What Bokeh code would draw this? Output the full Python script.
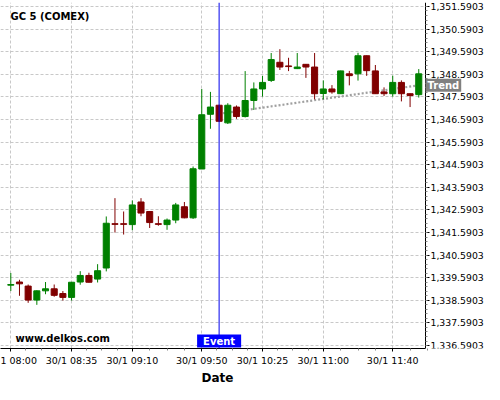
from bokeh.plotting import figure
from bokeh.models import (FixedTicker, NumeralTickFormatter, Span, Label,
                          ColumnDataSource, BoxAnnotation, Title)
from bokeh.embed import file_html
from bokeh.resources import INLINE

# ---------------- data ----------------
symbol = "GC 5 (COMEX)"
date_prefix = "30/1"
start_hour, start_min, step_min, n_bars = 8, 0, 5, 48
times = []
for i in range(n_bars):
    t = start_hour * 60 + start_min + i * step_min
    times.append("%02d:%02d" % (t // 60, t % 60))

opens = [1339.26, 1339.40, 1339.22, 1338.60, 1339.01, 1339.10, 1338.89, 1338.72,
         1339.40, 1339.69, 1339.53, 1340.02, 1341.98, 1341.98, 1341.94, 1342.94,
         1342.52, 1341.98, 1341.94, 1342.14, 1342.73, 1342.24, 1344.40, 1346.82,
         1347.22, 1346.44, 1347.14, 1346.72, 1347.43, 1347.94, 1348.32, 1349.12,
         1348.96, 1348.84, 1349.03, 1348.91, 1347.74, 1347.94, 1347.73, 1348.61,
         1348.61, 1349.41, 1348.74, 1347.81, 1347.73, 1348.23, 1347.73, 1347.69]
highs = [1339.80, 1339.50, 1339.29, 1339.03, 1339.40, 1339.29, 1339.00, 1339.40,
         1339.88, 1339.81, 1340.19, 1342.30, 1343.11, 1342.52, 1343.01, 1343.11,
         1342.53, 1342.31, 1342.21, 1342.90, 1342.94, 1344.51, 1347.94, 1347.81,
         1347.24, 1347.31, 1347.21, 1348.73, 1348.23, 1348.52, 1349.53, 1349.70,
         1349.32, 1349.53, 1349.04, 1349.53, 1348.32, 1348.11, 1348.75, 1348.74,
         1349.54, 1349.42, 1349.00, 1348.01, 1348.53, 1348.32, 1347.74, 1348.82]
lows = [1339.00, 1338.79, 1338.48, 1338.39, 1338.86, 1338.75, 1338.58, 1338.58,
        1339.28, 1339.38, 1339.38, 1339.87, 1341.59, 1341.50, 1341.69, 1342.31,
        1341.79, 1341.89, 1341.71, 1342.00, 1342.22, 1342.19, 1344.40, 1346.18,
        1346.49, 1346.39, 1346.62, 1346.68, 1347.01, 1347.60, 1348.25, 1348.78,
        1348.73, 1348.82, 1348.43, 1347.48, 1347.48, 1347.73, 1347.72, 1348.10,
        1348.31, 1348.52, 1347.72, 1347.63, 1347.60, 1347.39, 1347.14, 1347.56]
closes = [1339.29, 1339.32, 1338.60, 1339.01, 1339.10, 1338.81, 1338.72, 1339.39,
          1339.69, 1339.39, 1339.90, 1342.00, 1341.95, 1341.95, 1342.81, 1342.45,
          1342.03, 1341.95, 1342.14, 1342.81, 1342.24, 1344.41, 1346.80, 1347.14,
          1346.51, 1347.22, 1346.72, 1347.43, 1347.94, 1348.23, 1349.24, 1348.91,
          1348.93, 1348.91, 1348.91, 1347.73, 1347.94, 1347.81, 1348.74, 1348.53,
          1349.41, 1348.75, 1347.73, 1347.73, 1348.23, 1347.73, 1347.65, 1348.61]

tick_times = ["08:00", "08:35", "09:10", "09:50", "10:25", "11:00", "11:40"]
# the first tick label is cut at the chart's left edge in the original
tick_labels = ["1 08:00", "30/1 08:35", "30/1 09:10", "30/1 09:50",
               "30/1 10:25", "30/1 11:00", "30/1 11:40"]
event_time = "10:00"
trend_times = ["10:00", "11:55"]
trend_values = [1346.84, 1348.10]
y_tick_base = 1336.5903
y_tick_count = 16
watermark = "www.delkos.com"
x_title = "Date"

# ---------------- styles / layout ----------------
UP = "#008000"
DOWN = "#800000"
FONT = "DejaVu Sans"
W, H = 484, 384
PX_PER_BAR = 8.68
x_start = -10.3 / PX_PER_BAR
x_end = x_start + W / PX_PER_BAR
axis_x = x_start + 425 / PX_PER_BAR       # where the price axis sits
y_start, y_end = 1336.459, 1351.765

x = list(range(n_bars))
colors = [UP if c >= o else DOWN for o, c in zip(opens, closes)]
src = ColumnDataSource(dict(
    x=x, top=[max(o, c) for o, c in zip(opens, closes)],
    bottom=[min(o, c) for o, c in zip(opens, closes)],
    high=highs, low=lows, color=colors))

p = figure(width=W, height=H, output_backend="svg", toolbar_location=None,
           x_range=(x_start, x_end), y_range=(y_start, y_end),
           y_axis_location="right", min_border_left=0, min_border_top=2,
           min_border_right=0, min_border_bottom=0)
p.outline_line_color = None
p.background_fill_color = "white"
p.border_fill_color = "white"

# white cover of the area right of the price axis (hides grid there)
p.add_layout(BoxAnnotation(left=axis_x, fill_color="white", fill_alpha=1,
                           line_color=None, level="underlay"))

# trend line (behind candles)
p.line([times.index(t) for t in trend_times], trend_values,
       line_color="#a0a0a0", line_width=2.2, line_dash="2 2")

p.segment(x0="x", y0="low", x1="x", y1="high", color="color", line_width=1,
          source=src)
p.vbar(x="x", width=0.7, top="top", bottom="bottom", fill_color="color",
       line_color="color", line_width=1, source=src)

event_idx = times.index(event_time)
p.add_layout(Span(location=event_idx, dimension="height",
                  line_color="#0000ee", line_width=1))

# axes
major_x = [times.index(t) for t in tick_times]
minor_x = []
for a, b in zip(major_x[:-1], major_x[1:]):
    minor_x += [a + (b - a) * k / 4 for k in range(1, 4)]
last_step = (major_x[-1] - major_x[-2]) / 4
minor_x += [major_x[-1] + last_step * k for k in range(1, 3)]
p.xaxis.ticker = FixedTicker(ticks=major_x, minor_ticks=minor_x)
p.xaxis.major_label_overrides = dict(zip(major_x, tick_labels))
p.xaxis.bounds = (x_start, axis_x)

y_ticks = [y_tick_base + k for k in range(y_tick_count)]
y_minor = [y_tick_base + k * 0.2 for k in range(y_tick_count * 5)]
p.yaxis.ticker = FixedTicker(ticks=y_ticks, minor_ticks=y_minor)
p.yaxis.formatter = NumeralTickFormatter(format="0,0.0000")
p.yaxis.fixed_location = axis_x

for ax in (p.xaxis[0], p.yaxis[0]):
    ax.axis_line_color = "black"
    ax.axis_line_width = 1
    ax.major_tick_line_color = "black"
    ax.minor_tick_line_color = "#888888"
    ax.major_tick_in = 0
    ax.minor_tick_in = 0
    ax.major_tick_out = 4
    ax.minor_tick_out = 2
    ax.major_label_text_font = FONT
    ax.major_label_text_color = "black"
p.xaxis.major_label_text_font_size = "9.5px"
p.yaxis.major_label_text_font_size = "9.3px"
p.xaxis.major_tick_out = 3
p.xaxis.major_label_standoff = 3
p.yaxis.major_label_standoff = 1

# "Date" title under the time axis, centred under the price area
p.add_layout(Title(text=x_title, align="left", offset=201, standoff=0,
                   text_font=FONT, text_font_size="12px",
                   text_font_style="bold", text_color="black"), "below")

for g in (p.xgrid[0], p.ygrid[0]):
    g.grid_line_color = "#c8c8c8"
    g.grid_line_dash = "3 2"
    g.grid_line_width = 1
p.ygrid.ticker = FixedTicker(ticks=y_ticks)
p.xgrid.ticker = FixedTicker(ticks=major_x)

# annotations
p.add_layout(Label(x=x_start, y=y_end, x_offset=10, y_offset=-8, text=symbol,
                   text_font=FONT, text_font_size="10px", text_font_style="bold",
                   text_color="black", text_baseline="top"))
p.add_layout(Label(x=x_start, y=y_start, x_offset=15, y_offset=10, text=watermark,
                   text_font=FONT, text_font_size="10px", text_font_style="bold",
                   text_color="black", text_baseline="middle"))
p.add_layout(Label(x=event_idx, y=y_start, y_offset=1, text="Event",
                   text_font=FONT, text_font_size="10px", text_font_style="bold",
                   text_color="white", text_align="center", text_baseline="bottom",
                   background_fill_color="#0000ff",
                   padding=dict(left=6, right=6, top=1, bottom=1)))
p.add_layout(Label(x=axis_x, y=trend_values[-1], text="Trend",
                   text_font=FONT, text_font_size="10px", text_font_style="bold",
                   text_color="white", text_align="left", text_baseline="middle",
                   background_fill_color="#808080",
                   padding=dict(left=2, right=2, top=1, bottom=1)))

open("out.html", "w").write(file_html(p, INLINE))
